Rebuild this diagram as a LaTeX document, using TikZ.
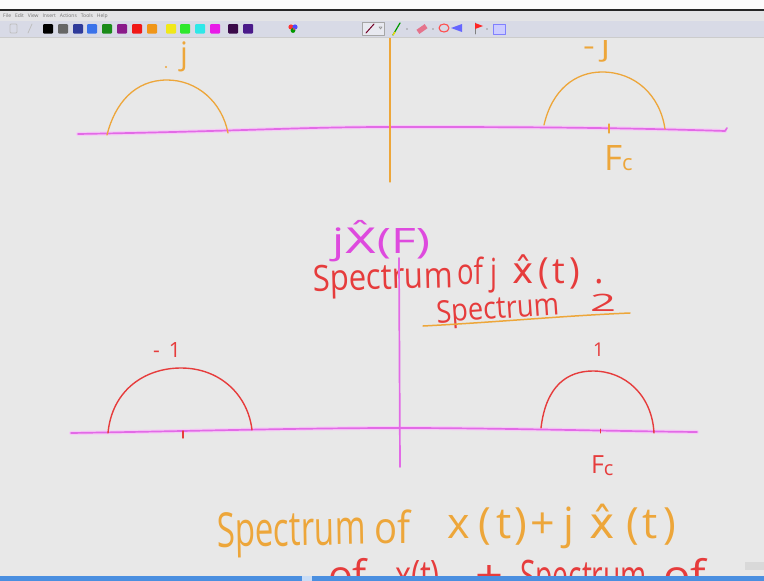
\documentclass[tikz,border=0pt]{standalone}
\usepackage{fontspec}
\setmainfont{Open Sans}
\newfontfamily\hatfont{DejaVu Sans}
\usepackage{graphicx}
\definecolor{bg}{HTML}{E8E8E8}
\definecolor{inkO}{HTML}{EDA63A}
\definecolor{inkR}{HTML}{E63C3C}
\definecolor{inkM}{HTML}{DE4ADE}
\definecolor{axisM}{HTML}{E26AE6}
\definecolor{menubar}{HTML}{E4E4E6}
\definecolor{toolbar}{HTML}{D8DAE6}
\definecolor{barblue}{HTML}{4A8FE0}
\definecolor{cA}{HTML}{000000}
\definecolor{cB}{HTML}{666666}
\definecolor{cC}{HTML}{2E3A9A}
\definecolor{cD}{HTML}{3A72EA}
\definecolor{cE}{HTML}{1A8A1A}
\definecolor{cF}{HTML}{8A1A8A}
\definecolor{cG}{HTML}{F01818}
\definecolor{cH}{HTML}{F0961A}
\definecolor{cI}{HTML}{F0E81A}
\definecolor{cJ}{HTML}{2EE82E}
\definecolor{cK}{HTML}{2EE8E8}
\definecolor{cL}{HTML}{E81AE8}
\definecolor{cM}{HTML}{3A0A4A}
\definecolor{cN}{HTML}{4A1A8A}
\newcommand{\fitw}[3]{\resizebox{#1pt}{\height}{\fontsize{#2}{#2}\selectfont #3}}
\newcommand{\cb}[2]{\makebox[#1pt][c]{#2}}
\begin{document}
\begin{tikzpicture}[x=1pt,y=-1pt,line cap=round,line join=round,
  oink/.style={draw=inkO,line width=1.3pt},
  rink/.style={draw=inkR,line width=1.4pt},
  mink/.style={draw=axisM,line width=1.7pt},
  glow/.style={draw=axisM!35,line width=4pt},
  txt/.style={inner sep=0pt,outer sep=0pt,anchor=base west}]
\useasboundingbox (0,0) rectangle (764,581);
\fill[bg] (0,0) rectangle (764,581);

% ---------- top spectrum (orange) ----------
\draw[glow] (78,134) .. controls (250,131) and (300,127) .. (390,127) .. controls (500,127) and (600,127) .. (725,131);
\draw[mink] (78,134) .. controls (250,131) and (300,127) .. (390,127) .. controls (500,127) and (600,127) .. (725,131) -- (727,128);
\draw[oink] (390,30) -- (390,182);
\draw[oink] (107,135) .. controls (115,103) and (135,80) .. (167,80) .. controls (197,80) and (222,102) .. (228,133);
\draw[oink] (544,125) .. controls (552,90) and (575,72) .. (602,72) .. controls (635,72) and (660,95) .. (665,129);
\draw[oink] (609,124) -- (609,133);
\fill[inkO] (166,67) circle (1.1);
\node[txt,text=inkO,font=\fontsize{31}{32}\selectfont] (jtop) at (180,64) {j};
\node[txt,text=inkO] (mjtop) at (583,55) {\fitw{27}{28}{-\,j}};
\node[txt,text=inkO] (fctop) at (604,170) {\fontsize{35}{36}\selectfont F\fontsize{22}{22}\selectfont c};

% ---------- middle texts ----------
\node[txt,text=inkM] (jXF) at (332,253) {\fitw{98}{35}{j{\hatfont\^{X}}(F)}};
\node[txt,text=inkR,rotate=1.5] (specA) at (313,291) {\fitw{140}{36}{Spectrum}};
\node[txt,text=inkR] (specB) at (457,284) {\fitw{40}{36}{of j}};
\node[txt,text=inkR,font=\fontsize{36}{36}\selectfont] (specC) at (510,283) {\cb{27}{\hatfont\^{x}}\cb{13}{(}\cb{17}{t}\cb{15}{)}};
\node[txt,text=inkR,font=\fontsize{36}{36}\selectfont] (specD) at (594,283) {.};
\node[txt,text=inkR,rotate=4] (spec2a) at (437,323) {\fitw{123}{31}{Spectrum}};
\node[txt,text=inkR] (spec2b) at (590,311) {\fitw{26}{24}{2}};
\draw[oink,line width=1.5pt] (423,326) .. controls (500,322) and (560,316) .. (630,313);

% ---------- lower spectrum (red) ----------
\draw[glow] (71,433) .. controls (200,431) and (300,428) .. (399,428) .. controls (500,428) and (600,431) .. (697,432);
\draw[mink] (71,433) .. controls (200,431) and (300,428) .. (399,428) .. controls (500,428) and (600,431) .. (697,432);
\draw[mink] (399,258) -- (400,467);
\draw[rink] (108,433) .. controls (112,390) and (145,368) .. (181,368) .. controls (220,368) and (248,395) .. (252,430);
\draw[rink] (541,428) .. controls (546,385) and (568,371) .. (593,371) .. controls (625,371) and (652,395) .. (654,433);
\draw[rink] (183,431) -- (183,438);
\draw[rink,line width=1pt] (600,429) -- (600,433);
\node[txt,text=inkR] (m1) at (153,357) {\fontsize{21}{22}\selectfont -\hspace{9pt}1};
\node[txt,text=inkR] (p1) at (593,356) {\fontsize{19}{20}\selectfont 1};
\node[txt,text=inkR] (fcbot) at (591,473) {\fontsize{25}{26}\selectfont F\raisebox{-2pt}{\fontsize{20}{20}\selectfont c}};

% ---------- bottom texts ----------
\node[txt,text=inkO,rotate=1] (sumA) at (217,547) {\fitw{149}{48}{Spectrum}};
\node[txt,text=inkO] (sumB) at (374,543) {\fitw{36}{44}{of}};
\node[txt,text=inkO,font=\fontsize{43}{43}\selectfont] (sumC) at (441,538) {\cb{35}{x}\cb{17}{(}\cb{22}{t}\cb{12}{)}\cb{31}{+}\cb{22}{j}\cb{45}{\hatfont\^{x}}\cb{15}{(}\cb{20}{t}\cb{20}{)}};
\begin{scope}
\clip (0,37) rectangle (764,576);
\node[txt,text=inkR] (redA) at (328,590) {\fitw{39}{42}{of}};
\node[txt,text=inkR] (redB) at (395,590) {\fitw{45}{42}{x(t)}};
\node[txt,text=inkR] (redC) at (475,590) {\fitw{28}{42}{+}};
\node[txt,text=inkR] (redD) at (520,590) {\fitw{127}{42}{Spectrum}};
\node[txt,text=inkR] (redE) at (663,590) {\fitw{43}{42}{of}};
\end{scope}
\fill[barblue] (0,576) rectangle (764,581);
\fill[barblue!30!white] (302,576) rectangle (312,581);
\fill[black!15] (745,562) rectangle (764,570);

% ---------- window chrome ----------
\fill[white!97!gray] (0,0) rectangle (764,9);
\fill[black!85] (0,9) rectangle (764,11);
\fill[menubar] (0,11) rectangle (764,21);
\node[inner sep=0pt,anchor=west,text=black!55,font=\fontsize{5}{6}\selectfont] (menu) at (3,16) {File\ \ \ Edit\ \ \ View\ \ \ Insert\ \ \ Actions\ \ \ Tools\ \ \ Help};
\fill[toolbar] (0,21) rectangle (764,37);
\draw[black!20,line width=0.6pt] (0,37) -- (764,37);
\draw[black!25,line width=0.8pt,rounded corners=1pt] (10,24) rectangle (17,33);
\draw[black!25,line width=0.8pt] (28,33) -- (32,24);
\foreach \xx/\cc in {43/cA,58/cB,73/cC,87/cD,102/cE,117/cF,132/cG,147/cH,166/cI,180/cJ,195/cK,210/cL,228/cM,243/cN}
  \fill[\cc,rounded corners=1pt] (\xx,24) rectangle ++(10,9.5);
\fill[red!80] (291,27) circle (2.6);
\fill[blue!70] (295,27) circle (2.6);
\fill[green!60!black] (293,30.5) circle (2.4);
\fill[purple!70] (294,29) circle (1.2);
\draw[black!35,fill=toolbar!60!white] (362,22) rectangle (384,35);
\draw[purple!60!black,line width=1pt] (366,33) -- (374,24);
\draw[black!40,line width=0.6pt] (379,27) -- (382,27) -- (380.5,29) -- cycle;
\draw[green!60!black,line width=1.2pt] (393,35) -- (400,23);
\draw[yellow!80!orange,line width=1.2pt] (393,35) -- (395,32);
\fill[black!40] (407,29) circle (0.9);
\fill[purple!40!pink,rotate around={35:(422,29)}] (417,26.5) rectangle (427,31.5);
\fill[black!40] (433,29) circle (0.9);
\draw[red!60!pink,line width=1.1pt] (444,28) ellipse (5 and 4);
\fill[blue!60] (451,28) -- (462,24) -- (462,32) -- cycle;
\draw[black!50,line width=0.7pt] (475,23) -- (475,34);
\fill[red!85] (475,23) -- (483,26) -- (475,29) -- cycle;
\fill[black!40] (487,29) circle (0.9);
\draw[blue!50,fill=blue!20,line width=0.8pt] (493,24) rectangle (505,34);
\end{tikzpicture}
\end{document}
